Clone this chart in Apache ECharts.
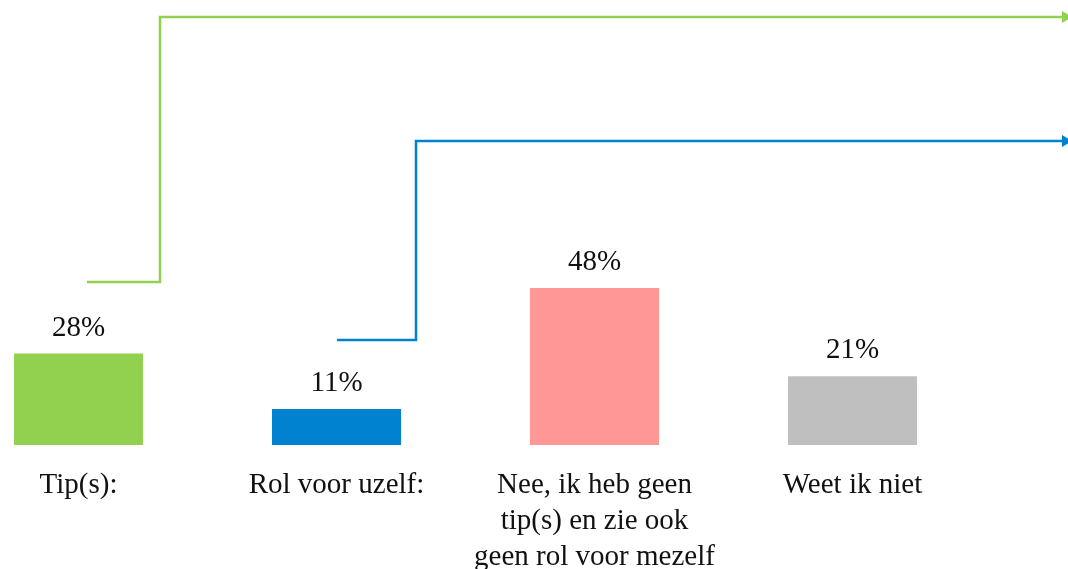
<!DOCTYPE html>
<html>
<head>
<meta charset="utf-8">
<script src="https://cdn.jsdelivr.net/npm/echarts@6/dist/echarts.min.js"></script>
<style>html,body{margin:0;padding:0;background:#fff;}#c{width:1068px;height:569px;}</style>
</head>
<body>
<div id="c"></div>
<script>
const categories = ['Tip(s):', 'Rol voor uzelf:', 'Nee, ik heb geen\ntip(s) en zie ook\ngeen rol voor mezelf', 'Weet ik niet'];
const values = [28, 11, 48, 21];
const colors = ['#92D050', '#0082D0', '#FF9797', '#BFBFBF'];

const chart = echarts.init(document.getElementById('c'));
const font = '"Liberation Serif", "DejaVu Serif", serif';
chart.setOption({
  animation: false,
  grid: { left: -50.5, right: 86.5, top: 118, bottom: 124, containLabel: false, outerBoundsMode: 'none' },
  xAxis: {
    type: 'category', data: categories,
    axisLine: { show: false }, axisTick: { show: false },
    axisLabel: { interval: 0, margin: 22, fontFamily: font, fontSize: 29, lineHeight: 36, color: '#111', verticalAlign: 'top' }
  },
  yAxis: { type: 'value', min: 0, max: 100, show: false, splitLine: { show: false } },
  series: [{
    type: 'bar', barWidth: 129,
    data: values.map((v, i) => ({ value: v, itemStyle: { color: colors[i] } })),
    label: { show: true, position: 'top', distance: 11, formatter: '{c}%', fontFamily: font, fontSize: 29, color: '#111' }
  }],
  graphic: [
    { type: 'polyline', shape: { points: [[87, 282], [160, 282], [160, 17], [1062, 17]] }, style: { stroke: '#92D050', lineWidth: 2.5, fill: null } },
    { type: 'polygon', shape: { points: [[1062, 11], [1072, 17], [1062, 23]] }, style: { fill: '#92D050' } },
    { type: 'polyline', shape: { points: [[337, 340], [416, 340], [416, 141], [1062, 141]] }, style: { stroke: '#0082D0', lineWidth: 2.5, fill: null } },
    { type: 'polygon', shape: { points: [[1062, 135], [1072, 141], [1062, 147]] }, style: { fill: '#0082D0' } }
  ]
});
</script>
</body>
</html>
